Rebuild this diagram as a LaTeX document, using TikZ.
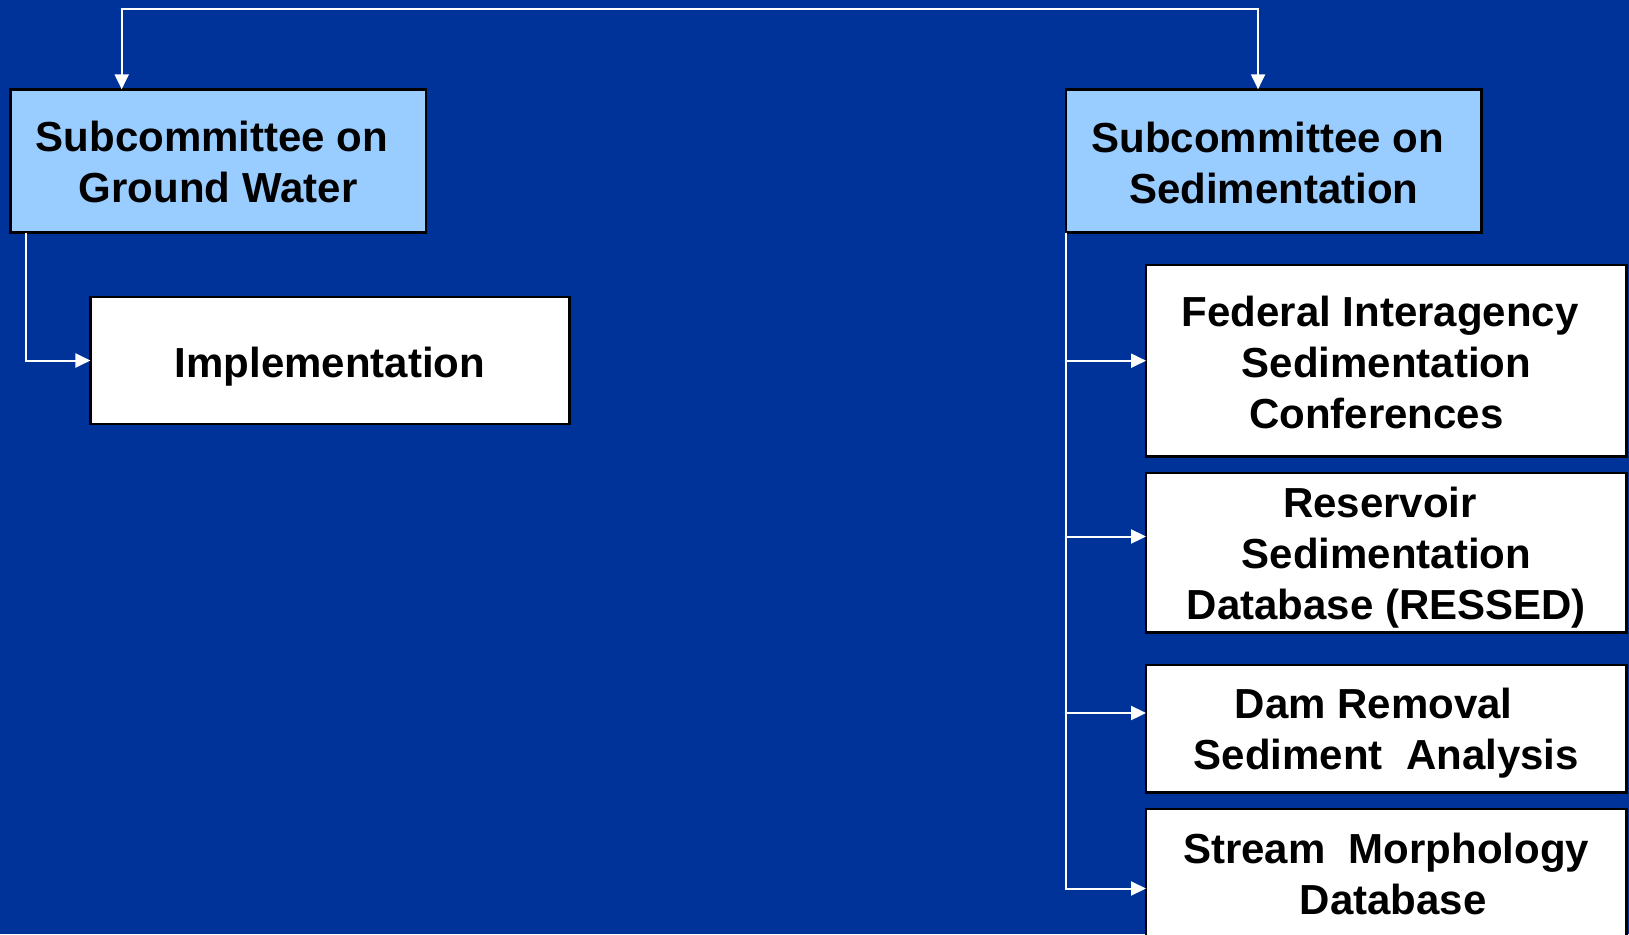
\documentclass[tikz,border=0pt]{standalone}
\usepackage{fontspec}
\setmainfont{Liberation Sans}
\usetikzlibrary{arrows.meta,calc}
\definecolor{bgblue}{RGB}{0,51,153}
\definecolor{lightblue}{RGB}{153,204,255}
% raises the first line's height so that the centred text sits #1 lower
\newcommand\lowerby[1]{\rule{0pt}{\dimexpr 30.5pt+#1*2\relax}}
\begin{document}
\begin{tikzpicture}[x=1pt,y=-1pt,
  box/.style={draw=black, line width=2.5pt, fill=white, inner sep=0pt, outer sep=0pt, align=center,
    font=\fontsize{42}{51}\selectfont\bfseries},
  headbox/.style={box, fill=lightblue},
  boxtext/.style={inner sep=0pt, align=center, font=\fontsize{42}{51}\selectfont\bfseries},
  conn/.style={draw=white, line width=2pt, -{Triangle[width=14pt,length=15pt]}}
]
\fill[bgblue] (0,0) rectangle (1629,934);
\useasboundingbox (0,0) rectangle (1629,934);

% boxes
\node[headbox, minimum width=415.6pt, minimum height=143.4pt] (gw) at (218.2,161)
  {\lowerby{1pt}Subcommittee on\kern12.5pt\\Ground Water};
\node[box, minimum width=478.9pt, minimum height=127pt] (impl) at (329.9,360.5)
  {\lowerby{6.2pt}Implementation};
\node[headbox, minimum width=415.5pt, minimum height=143.4pt] (sed) at (1273.8,161)
  {\lowerby{1.6pt}Subcommittee on\kern12.5pt\\Sedimentation};
\node[box, minimum width=480.5pt, minimum height=191.5pt] (fisc) at (1386.3,360.8)
  {\lowerby{2.1pt}Federal Interagency\kern12.5pt\\Sedimentation\\Conferences\kern20pt};
\node[box, minimum width=480.5pt, minimum height=159.7pt] (ressed) at (1386.3,552.8)
  {\lowerby{5.2pt}Reservoir\kern12.5pt\\Sedimentation\\Database (RESSED)};
\node[box, minimum width=480.5pt, minimum height=127.3pt] (dam) at (1386.3,728.7)
  {\lowerby{4.7pt}Dam Removal\kern25pt\\Sediment~~Analysis};
\node[box, anchor=north west, minimum width=480.5pt, minimum height=160pt] (stream) at (1146,809) {};
\node[boxtext] (streamtext) at (1386.3,874) {Stream~~Morphology\\\kern13.5pt Database};

% arrow levels
\coordinate (top) at (600,9.4);
\coordinate (a1) at (0,360.7);
\coordinate (a2) at (0,536.5);
\coordinate (a3) at (0,713);
\coordinate (a4) at (0,888.5);

% connectors
\draw[conn, {Triangle[width=14pt,length=15pt]}-{Triangle[width=14pt,length=15pt]}]
  ($(gw.north west)+(111.3,0)$) |- (top) -| ($(sed.north west)+(192,0)$);
\draw[conn] ($(gw.south west)+(15.6,0)$) |- (impl.west);
\draw[conn] (sed.south west) |- (fisc.west |- a1);
\draw[conn] (sed.south west) |- (ressed.west |- a2);
\draw[conn] (sed.south west) |- (dam.west |- a3);
\draw[conn] (sed.south west) |- (stream.west |- a4);
\end{tikzpicture}
\end{document}
